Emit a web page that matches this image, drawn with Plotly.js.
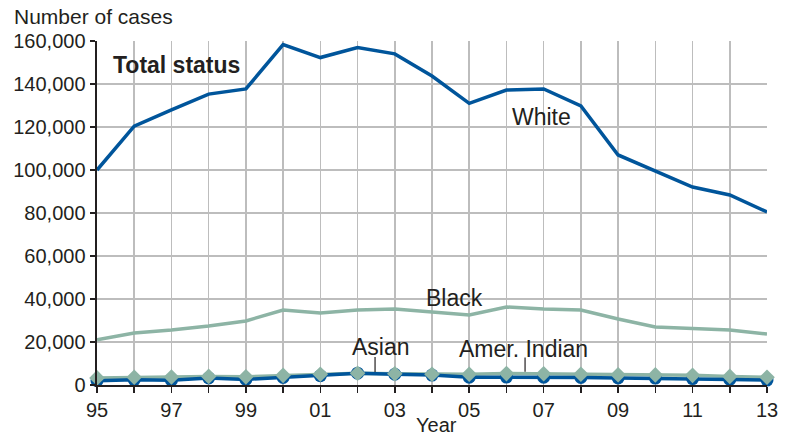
<!DOCTYPE html>
<html><head><meta charset="utf-8">
<script src="https://cdn.plot.ly/plotly-3.0.1.min.js"></script>
<style>body{margin:0;background:#fff}#c{width:788px;height:436px}</style>
</head><body><div id="c"></div>
<script>
const years = [1995,1996,1997,1998,1999,2000,2001,2002,2003,2004,2005,2006,2007,2008,2009,2010,2011,2012,2013];
const white = [100000,120400,128000,135300,137700,158300,152300,157000,154000,143700,131000,137200,137700,129800,107000,99500,92100,88400,80500];
const black = [21000,24200,25600,27400,29800,34900,33500,34900,35300,34000,32600,36300,35300,34900,30700,27000,26500,25600,23700];
const asian = [2000,2500,2200,3300,2600,3500,4300,5500,5000,4600,3600,3700,3600,3500,3300,3200,3000,2600,2300];
const amerIndian = [3300,3600,3700,4000,3800,4500,5000,5500,5200,5000,5000,5300,5200,5000,4800,4700,4500,4000,3600];
const tickText = years.map(y => (y % 2 === 1) ? String(y).slice(2) : "");
const yTicks = [0,20000,40000,60000,80000,100000,120000,140000,160000];

const blue = "#00559b", green = "#8db4a5", ink = "#231f20";
const F = "Liberation Sans, Arial, Helvetica, sans-serif";

const traces = [
  {x: years, y: black, mode: "lines", line: {color: green, width: 3.5}, hoverinfo: "skip"},
  {x: years, y: amerIndian, mode: "lines", line: {color: green, width: 3.5}, hoverinfo: "skip"},
  {x: years, y: white, mode: "lines", line: {color: blue, width: 3.5}, hoverinfo: "skip"},
  {x: years, y: asian, mode: "lines+markers", line: {color: blue, width: 3.5},
   marker: {symbol: "circle", size: 13, color: blue}, cliponaxis: false, hoverinfo: "skip"},
  {x: years, y: amerIndian, mode: "markers",
   marker: {symbol: "diamond", size: 12, color: green}, cliponaxis: false, hoverinfo: "skip"}
];

const layout = {
  width: 788, height: 436,
  margin: {l: 97, r: 21, t: 41, b: 51},
  paper_bgcolor: "#fff", plot_bgcolor: "#fff",
  showlegend: false,
  font: {family: F, size: 20, color: ink},
  xaxis: {
    range: [1995, 2013], tickvals: years, ticktext: tickText,
    showgrid: true, gridcolor: "#bdbdbd", gridwidth: 1.5,
    showline: true, linecolor: ink, linewidth: 2,
    ticks: "outside", ticklen: 6, tickcolor: ink, tickwidth: 1.5,
    zeroline: false, fixedrange: true,
    tickfont: {family: F, size: 20, color: ink}
  },
  yaxis: {
    range: [0, 160000], tickvals: yTicks,
    ticktext: yTicks.map(v => v.toLocaleString("en-US")),
    showgrid: true, gridcolor: "#bdbdbd", gridwidth: 1.5,
    showline: true, linecolor: ink, linewidth: 2.5,
    ticks: "outside", ticklen: 5, tickcolor: ink, tickwidth: 1.5,
    zeroline: false, fixedrange: true,
    tickfont: {family: F, size: 20, color: ink}
  },
  annotations: [
    {xref: "paper", yref: "paper", x: -0.127, y: 1.07, xanchor: "left", yanchor: "middle",
     text: "Number of cases", showarrow: false, font: {size: 21, color: ink}},
    {xref: "paper", yref: "paper", x: 0.507, y: -0.116, xanchor: "center", yanchor: "middle",
     text: "Year", showarrow: false, font: {size: 20, color: ink}},
    {x: 1995.38, y: 148800, xanchor: "left", yanchor: "middle",
     text: "<b>Total status</b>", showarrow: false, font: {size: 23, color: ink}},
    {x: 2006.93, y: 124600, xanchor: "center", yanchor: "middle",
     text: "White", showarrow: false, font: {size: 23, color: ink}},
    {x: 2004.6, y: 40400, xanchor: "center", yanchor: "middle",
     text: "Black", showarrow: false, font: {size: 23, color: ink}},
    {x: 2002.63, y: 17700, xanchor: "center", yanchor: "middle",
     text: "Asian", showarrow: false, font: {size: 23, color: ink}},
    {x: 2006.47, y: 16700, xanchor: "center", yanchor: "middle",
     text: "Amer. Indian", showarrow: false, font: {size: 23, color: ink}}
  ],
  shapes: [
    {type: "line", x0: 2002.47, x1: 2002.47, y0: 13000, y1: 6000, line: {color: ink, width: 1.2}},
    {type: "line", x0: 2006.5, x1: 2006.5, y0: 12800, y1: 6200, line: {color: ink, width: 1.2}}
  ]
};
Plotly.newPlot("c", traces, layout, {staticPlot: true});
</script></body></html>
